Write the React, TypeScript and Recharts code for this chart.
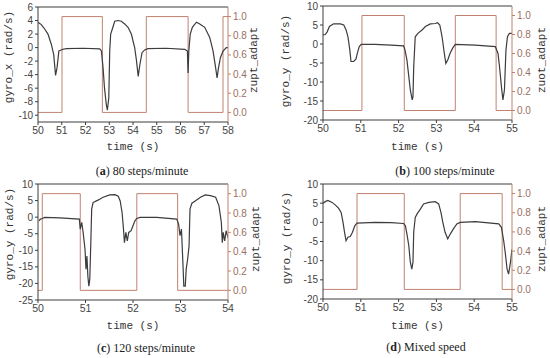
import { ComposedChart, Line, XAxis, YAxis, Label, ReferenceLine } from "recharts";

// (a) 80 steps/minute
const timeA = [50, 50.14, 50.28, 50.42, 50.56, 50.66, 50.74, 50.8, 50.88, 50.95, 51.05, 51.2, 51.9, 52.6, 52.67, 52.74, 52.8, 52.88, 52.92, 52.98, 53.02, 53.06, 53.13, 53.23, 53.37, 53.51, 53.65, 53.79, 53.93, 54.07, 54.14, 54.22, 54.29, 54.38, 54.49, 54.63, 55.4, 56.18, 56.29, 56.32, 56.35, 56.41, 56.5, 56.67, 56.81, 57.02, 57.23, 57.37, 57.48, 57.54, 57.6, 57.68, 57.79, 57.93, 58];
const gyroA = [3.75, 3.4, 2.75, 2, 0.5, -1, -4.1, -3, -0.5, -0.4, -0.25, -0.15, -0.1, -0.2, -0.5, -3, -6, -8.5, -9.25, -7.5, -0.5, 2, 2.75, 3.9, 4, 3.9, 3.5, 3, 2, 0, -1.75, -4.25, -2.5, -0.75, -0.35, -0.15, -0.1, -0.25, -0.5, -3.75, -0.5, 2, 3, 3.75, 3.5, 3, 1.5, -0.5, -3, -4.5, -3, -1.5, -0.5, 0, 0];
const zuptTimeA = [50, 51.01, 52.71, 54.56, 56.32, 57.79, 58];
const zuptA = [0, 1, 0, 1, 0, 1, 1];

// (b) 100 steps/minute
const timeB = [50, 50.06, 50.11, 50.17, 50.28, 50.46, 50.55, 50.61, 50.66, 50.71, 50.74, 50.81, 50.87, 50.92, 50.96, 51.01, 51.38, 51.8, 52.13, 52.17, 52.22, 52.27, 52.31, 52.36, 52.38, 52.4, 52.44, 52.51, 52.62, 52.71, 52.84, 52.97, 53.03, 53.09, 53.15, 53.21, 53.25, 53.3, 53.36, 53.43, 53.5, 54.03, 54.56, 54.63, 54.67, 54.72, 54.76, 54.8, 54.84, 54.88, 54.93, 55];
const gyroB = [2.4, 2.5, 3.2, 4.6, 5.3, 5.3, 5, 3.7, 1.9, -1.6, -4.6, -4.6, -4, -2, -0.7, -0.1, -0.1, -0.3, -0.5, -1.6, -4.2, -8.6, -12.1, -14.7, -13.9, -6, 1.9, 2.8, 3.7, 4.6, 5.3, 5.4, 5.6, 5, 1.9, -2.5, -5.1, -4.2, -2.5, -1.1, -0.1, -0.3, -0.7, -2.5, -6, -11.2, -14.7, -12.1, -1.6, 1.9, 2.8, 2.8];
const zuptTimeB = [50, 51.03, 52.15, 53.5, 54.58, 55];
const zuptB = [0, 1, 0, 1, 0, 0];

// (c) 120 steps/minute
const timeC = [50.02, 50.05, 50.09, 50.14, 50.46, 50.87, 50.89, 50.92, 50.95, 50.99, 51.01, 51.03, 51.05, 51.07, 51.09, 51.11, 51.13, 51.16, 51.23, 51.3, 51.37, 51.51, 51.62, 51.69, 51.73, 51.77, 51.8, 51.82, 51.85, 51.88, 51.91, 51.96, 52, 52.04, 52.08, 52.15, 52.5, 52.92, 52.96, 52.99, 53.02, 53.05, 53.07, 53.1, 53.12, 53.15, 53.18, 53.2, 53.24, 53.31, 53.42, 53.52, 53.63, 53.74, 53.81, 53.86, 53.88, 53.9, 53.93, 53.96, 54];
const gyroC = [-1.1, -0.6, -0.4, -0.1, -0.2, -0.6, -3.6, -1.6, -4.6, -9.7, -15.7, -11.7, -17.8, -20.8, -18.8, -8.7, 2.4, 4.4, 4.9, 5.4, 6, 6.7, 6.8, 6.3, 4.9, 1.4, -3.6, -7.7, -4.6, -7.2, -4.6, -4.1, -2.6, -1.1, -0.4, -0.1, -0.1, -0.6, -2.1, -5.6, -3.6, -13.7, -20.8, -20.8, -15.7, -12.7, -8.7, 2.4, 4.2, 4.9, 6, 6.7, 6.5, 6, 3.4, -1.6, -7.7, -4.6, -7.2, -4.1, -6.2];
const zuptTimeC = [50, 50.09, 50.89, 52.08, 52.94, 54];
const zuptC = [0, 1, 0, 1, 0, 0];

// (d) Mixed speed
const timeD = [50, 50.06, 50.13, 50.24, 50.33, 50.41, 50.48, 50.53, 50.57, 50.61, 50.66, 50.72, 50.78, 50.84, 50.9, 51.38, 51.8, 52.13, 52.18, 52.22, 52.27, 52.31, 52.35, 52.38, 52.4, 52.44, 52.49, 52.58, 52.66, 52.8, 52.97, 53.06, 53.12, 53.17, 53.23, 53.3, 53.37, 53.45, 53.54, 53.63, 54.03, 54.65, 54.72, 54.78, 54.82, 54.87, 54.91, 54.96, 55];
const gyroD = [5, 5.4, 5.7, 5.2, 4.5, 3.7, 2.6, 0, -2.6, -4.8, -3.9, -3.7, -2.6, -0.9, -0.2, 0, -0.1, -0.3, -0.9, -3, -6.1, -10.4, -12.2, -10.4, -2.6, 1.3, 2.2, 3.5, 4.8, 5.2, 5.4, 4.8, 2.6, 0, -2.6, -4.3, -3, -1.7, -0.4, 0, 0.2, -0.4, -1.3, -4.8, -7.8, -12.2, -13.5, -10.4, -7];
const zuptTimeD = [50, 50.9, 52.15, 53.63, 54.74, 55];
const zuptD = [0, 1, 0, 1, 0, 0];

const zuptTicks = [0, 0.2, 0.4, 0.6, 0.8, 1.0];

const GRAY = "#3c3c3c";
const RED = "#c0826e";
const RED_TEXT = "#9a7062";
const MONO = "'Liberation Mono', monospace";
const TICK_FONT = "'Liberation Sans', sans-serif";

const vTitle = (text: string, x: number, y: number) => () => (
  <text
    x={x}
    y={y}
    transform={`rotate(-90 ${x} ${y})`}
    textAnchor="middle"
    dominantBaseline="central"
    fontFamily={MONO}
    fontSize={11}
    fill="#333"
  >
    {text}
  </text>
);

interface PanelProps {
  left: number
  top: number
  time: number[]
  gyro: number[]
  zuptTime: number[]
  zupt: number[]
  xTicks: number[]
  yTicks: number[]
  yDomain: [number, number]
  plot: { l: number; r: number; t: number; b: number }
  yTitle: string
  yTitlePos: [number, number]
  zTitle: string
  zTitlePos: [number, number]
  tag: string
  caption: string
  captionPos: [number, number]
}

function Panel(p: PanelProps) {
  const W = 275;
  const H = 160;
  const gyroData = p.time.map((t, i) => ({ t, v: p.gyro[i] }));
  const zuptData = p.zuptTime.map((t, i) => ({ t, z: p.zupt[i] }));
  const xDomain = [p.xTicks[0], p.xTicks[p.xTicks.length - 1]];
  return (
    <div style={{ position: "absolute", left: p.left, top: p.top, width: W, height: 179 }}>
      <ComposedChart
        width={W}
        height={H}
        margin={{ top: p.plot.t, bottom: 0, left: p.plot.l - 30, right: W - p.plot.r - 30 }}
      >
        <XAxis
          dataKey="t"
          type="number"
          domain={xDomain}
          ticks={p.xTicks}
          interval={0}
          allowDataOverflow
          height={H - p.plot.b}
          tickSize={3}
          stroke={GRAY}
          tick={{ fill: "#444", fontSize: 10.5, fontFamily: TICK_FONT }}
        >
          <Label
            content={() => (
              <text
                x={(p.plot.l + p.plot.r) / 2}
                y={147}
                textAnchor="middle"
                dominantBaseline="central"
                fontFamily={MONO}
                fontSize={11}
                fill="#333"
              >
                time (s)
              </text>
            )}
          />
        </XAxis>
        <YAxis
          yAxisId="g"
          orientation="left"
          type="number"
          domain={p.yDomain}
          ticks={p.yTicks}
          interval={0}
          allowDataOverflow
          width={30}
          tickSize={3}
          stroke={GRAY}
          tick={{ fill: "#444", fontSize: 10, fontFamily: TICK_FONT }}
        >
          <Label content={vTitle(p.yTitle, p.yTitlePos[0], p.yTitlePos[1])} />
        </YAxis>
        <YAxis
          yAxisId="z"
          orientation="right"
          type="number"
          domain={[-0.1, 1.1]}
          ticks={zuptTicks}
          interval={0}
          tickFormatter={(v: number) => v.toFixed(1)}
          allowDataOverflow
          width={30}
          tickSize={3}
          stroke={RED}
          tick={{ fill: RED_TEXT, fontSize: 10, fontFamily: TICK_FONT }}
        >
          <Label content={vTitle(p.zTitle, p.zTitlePos[0], p.zTitlePos[1])} />
        </YAxis>
        <ReferenceLine yAxisId="g" y={p.yDomain[1]} stroke={GRAY} strokeWidth={1} />
        <Line
          yAxisId="z"
          data={zuptData}
          dataKey="z"
          type="stepAfter"
          stroke={RED}
          strokeWidth={1}
          dot={false}
          isAnimationActive={false}
        />
        <Line
          yAxisId="g"
          data={gyroData}
          dataKey="v"
          type="linear"
          stroke={GRAY}
          strokeWidth={1.2}
          dot={false}
          isAnimationActive={false}
        />
      </ComposedChart>
      <div
        style={{
          position: "absolute",
          left: p.captionPos[0] - 100,
          top: p.captionPos[1] - 8,
          width: 200,
          textAlign: "center",
          fontFamily: "'Liberation Serif', serif",
          fontSize: 12,
          lineHeight: "16px",
          color: "#222",
          whiteSpace: "nowrap",
        }}
      >
        (<b>{p.tag}</b>) {p.caption}
      </div>
    </div>
  );
}

export default function App() {
  return (
    <div style={{ position: "absolute", left: 0, top: 0, width: 550, height: 358, background: "#fff" }}>
      <Panel
        left={0}
        top={0}
        time={timeA}
        gyro={gyroA}
        zuptTime={zuptTimeA}
        zupt={zuptA}
        xTicks={[50, 51, 52, 53, 54, 55, 56, 57, 58]}
        yTicks={[-10, -8, -6, -4, -2, 0, 2, 4, 6]}
        yDomain={[-11, 6]}
        plot={{ l: 38, r: 228, t: 7, b: 122 }}
        yTitle="gyro_x (rad/s)"
        yTitlePos={[9, 57]}
        zTitle="zupt_adapt"
        zTitlePos={[254, 60]}
        tag="a"
        caption="80 steps/minute"
        captionPos={[142, 171]}
      />
      <Panel
        left={275}
        top={0}
        time={timeB}
        gyro={gyroB}
        zuptTime={zuptTimeB}
        zupt={zuptB}
        xTicks={[50, 51, 52, 53, 54, 55]}
        yTicks={[-20, -15, -10, -5, 0, 5, 10]}
        yDomain={[-20, 10]}
        plot={{ l: 48, r: 237, t: 6, b: 120 }}
        yTitle="gyro_y (rad/s)"
        yTitlePos={[11, 61]}
        zTitle="zuot_adapt"
        zTitlePos={[267, 60]}
        tag="b"
        caption="100 steps/minute"
        captionPos={[170, 171]}
      />
      <Panel
        left={0}
        top={179}
        time={timeC}
        gyro={gyroC}
        zuptTime={zuptTimeC}
        zupt={zuptC}
        xTicks={[50, 51, 52, 53, 54]}
        yTicks={[-25, -20, -15, -10, -5, 0, 5, 10]}
        yDomain={[-25, 10]}
        plot={{ l: 38, r: 228, t: 5, b: 121 }}
        yTitle="gyro_y (rad/s)"
        yTitlePos={[10, 55]}
        zTitle="zupt_adapt"
        zTitlePos={[256, 60]}
        tag="c"
        caption="120 steps/minute"
        captionPos={[146, 169]}
      />
      <Panel
        left={275}
        top={179}
        time={timeD}
        gyro={gyroD}
        zuptTime={zuptTimeD}
        zupt={zuptD}
        xTicks={[50, 51, 52, 53, 54, 55]}
        yTicks={[-20, -15, -10, -5, 0, 5, 10]}
        yDomain={[-20, 10]}
        plot={{ l: 48, r: 237, t: 5, b: 120 }}
        yTitle="gyro_y (rad/s)"
        yTitlePos={[12, 59]}
        zTitle="zupt_adapt"
        zTitlePos={[267, 60]}
        tag="d"
        caption="Mixed speed"
        captionPos={[151, 168]}
      />
    </div>
  );
}
